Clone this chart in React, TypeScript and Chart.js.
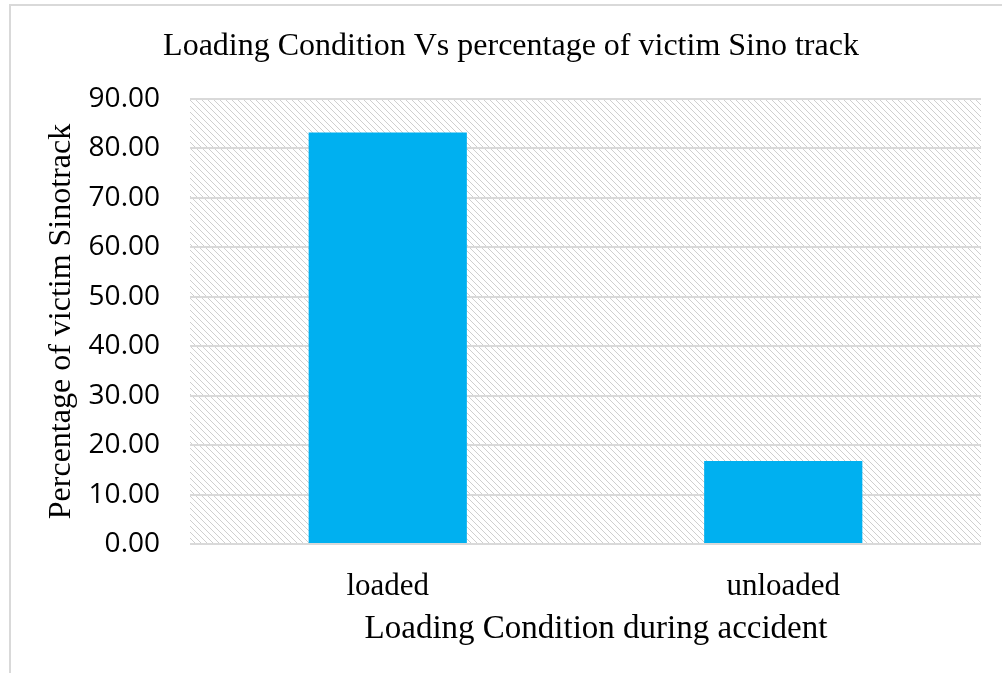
import React, { useEffect, useRef } from "react";
import { Chart, registerables } from "chart.js";

Chart.register(...registerables);

const categories = ["loaded", "unloaded"];
const victimPercent = [83.2, 16.8];
const yTicks = [0, 10, 20, 30, 40, 50, 60, 70, 80, 90];

const chartTitle = "Loading Condition Vs percentage of victim Sino track";
const xTitle = "Loading Condition during accident";
const yTitle = "Percentage of victim Sinotrack";

const SERIF = "'Liberation Serif', 'Times New Roman', serif";
const SANS = "'Open Sans', 'Liberation Sans', sans-serif";

function makeHatch(): CanvasPattern | string {
  const tile = document.createElement("canvas");
  tile.width = 6;
  tile.height = 6;
  const c = tile.getContext("2d");
  if (!c) return "#ffffff";
  c.fillStyle = "#ffffff";
  c.fillRect(0, 0, 6, 6);
  c.fillStyle = "#cfcfcf";
  for (let i = 0; i < 6; i += 1) c.fillRect(i, i, 1, 1);
  const p = c.createPattern(tile, "repeat");
  return p || "#ffffff";
}

// White page, thin outer frame and the hatched plot background.
const framePlugin = {
  id: "frameAndHatch",
  beforeDraw(chart: any) {
    const { ctx, chartArea } = chart;
    ctx.save();
    ctx.fillStyle = "#ffffff";
    ctx.fillRect(0, 0, chart.width, chart.height);
    ctx.strokeStyle = "#d9d9d9";
    ctx.lineWidth = 2;
    ctx.strokeRect(10, 5, chart.width + 20, chart.height + 20);
    ctx.fillStyle = makeHatch();
    ctx.fillRect(
      chartArea.left,
      chartArea.top,
      chartArea.right - chartArea.left,
      chartArea.bottom - chartArea.top
    );
    ctx.restore();
  },
};

// Chart heading and horizontal axis caption.
const captionPlugin = {
  id: "captions",
  afterDraw(chart: any) {
    const { ctx } = chart;
    ctx.save();
    ctx.fillStyle = "#000000";
    ctx.textAlign = "center";
    ctx.textBaseline = "alphabetic";
    ctx.font = `32px ${SERIF}`;
    ctx.fillText(chartTitle, 511, 55);
    ctx.font = `33px ${SERIF}`;
    ctx.fillText(xTitle, 596, 638);
    ctx.restore();
  },
};

export default function App() {
  const canvasRef = useRef<HTMLCanvasElement | null>(null);

  useEffect(() => {
    const canvas = canvasRef.current;
    if (!canvas) return;
    const chart = new Chart(canvas, {
      type: "bar",
      data: {
        labels: categories,
        datasets: [
          {
            data: victimPercent,
            backgroundColor: "#00b0f0",
            borderWidth: 0,
            barPercentage: 0.4,
            categoryPercentage: 1,
          },
        ],
      },
      options: {
        responsive: false,
        animation: false,
        events: [],
        layout: { padding: { top: 99, left: 10, right: 21, bottom: 20 } },
        plugins: {
          legend: { display: false },
          tooltip: { enabled: false },
          title: { display: false },
        },
        scales: {
          x: {
            grid: { display: false },
            border: { display: false },
            ticks: {
              color: "#000000",
              font: { family: SERIF, size: 31 },
              padding: 16,
            },
            afterFit(scale: any) {
              scale.height = 109;
            },
          },
          y: {
            min: 0,
            max: 90,
            afterBuildTicks(scale: any) {
              scale.ticks = yTicks.map((v) => ({ value: v }));
            },
            grid: { color: "#d9d9d9", lineWidth: 2, drawTicks: false },
            border: { display: false },
            ticks: {
              color: "#000000",
              font: { family: SANS, size: 28 },
              padding: 30,
              callback: (v: any) => Number(v).toFixed(2),
            },
            title: {
              display: true,
              text: yTitle,
              color: "#000000",
              font: { family: SERIF, size: 32 },
              padding: { top: 32, bottom: 0 },
            },
            afterFit(scale: any) {
              scale.width = 180;
            },
          },
        },
      },
      plugins: [framePlugin, captionPlugin],
    });
    return () => chart.destroy();
  }, []);

  return (
    <div style={{ position: "absolute", left: 0, top: 0, width: 1002, height: 673 }}>
      <canvas ref={canvasRef} width={1002} height={673} style={{ display: "block" }} />
    </div>
  );
}
